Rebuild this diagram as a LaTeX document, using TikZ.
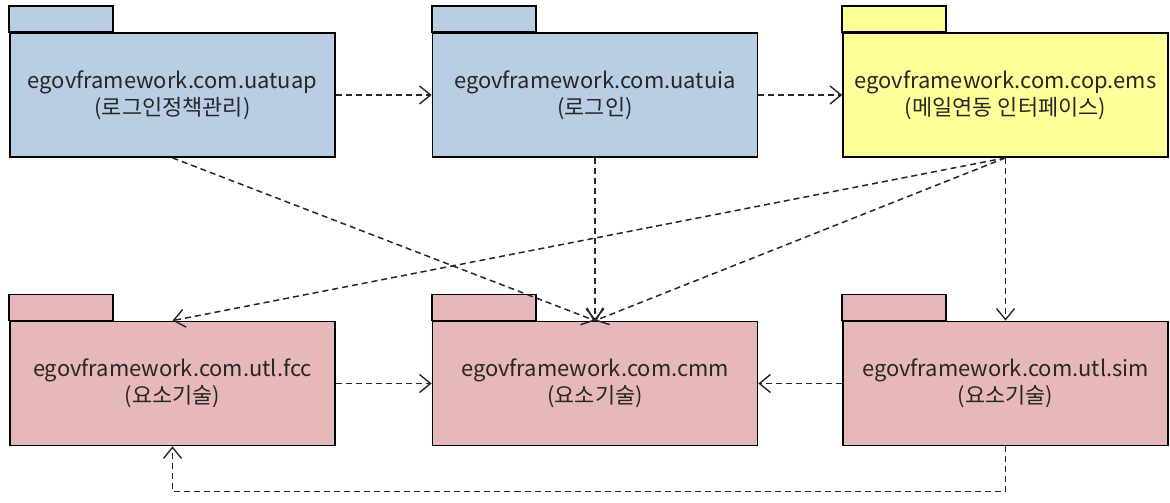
\documentclass[tikz,border=0pt]{standalone}
\usepackage{fontspec}
\setmainfont{Noto Sans CJK KR}
\usetikzlibrary{arrows.meta}

\definecolor{pkgblue}{RGB}{185,205,229}
\definecolor{pkgyellow}{RGB}{255,255,153}
\definecolor{pkgpink}{RGB}{230,185,184}

\tikzset{
  pkg/.style = {draw, line width=1.7bp, fill=#1, minimum width=325bp, minimum height=124bp,
                inner sep=0pt, align=center, text=black!85, font=\fontsize{22}{27}\selectfont},
  pkgtab/.style = {draw, line width=1.7bp, fill=#1},
  dep/.style = {line width=1.5bp, dash pattern=on 6bp off 4bp, black!85,
                -{Straight Barb[length=11bp, width=18bp, line width=1.4bp]}}
}

\begin{document}
\begin{tikzpicture}[x=1bp, y=-1bp]
\useasboundingbox (0,0) rectangle (1170,503);

% packages, top row
\node[pkg=pkgblue]   (uap) at (172.5,95) {egovframework.com.uatuap\\(로그인정책관리)};
\node[pkg=pkgblue]   (uia) at (595,95)   {egovframework.com.uatuia\\(로그인)};
\node[pkg=pkgyellow] (ems) at (1005.5,95) {egovframework.com.cop.ems\\(메일연동 인터페이스)};

% packages, bottom row
\node[pkg=pkgpink] (fcc) at (172.5,383.5) {egovframework.com.utl.fcc\\(요소기술)};
\node[pkg=pkgpink] (cmm) at (595,383.5)   {egovframework.com.cmm\\(요소기술)};
\node[pkg=pkgpink] (sim) at (1005.5,383.5) {egovframework.com.utl.sim\\(요소기술)};

% tabs
\foreach \p/\c in {uap/pkgblue, uia/pkgblue, ems/pkgyellow, fcc/pkgpink, cmm/pkgpink, sim/pkgpink}
  \draw[pkgtab=\c] (\p.north west) rectangle ++(104,-26);

% dependencies
\draw[dep] (uap.east) -- (uia.west);
\draw[dep] (uia.east) -- (ems.west);
\draw[dep] (uap.south) -- (cmm.north);
\draw[dep] (uia.south) -- (cmm.north);
\draw[dep] (ems.south) -- (cmm.north);
\draw[dep] (ems.south) -- (fcc.north);
\draw[dep] (ems.south) -- (sim.north);
\draw[dep] (fcc.east) -- (cmm.west);
\draw[dep] (sim.west) -- (cmm.east);
\draw[dep] (sim.south) -- ++(0,45) -| (fcc.south);
\end{tikzpicture}
\end{document}
